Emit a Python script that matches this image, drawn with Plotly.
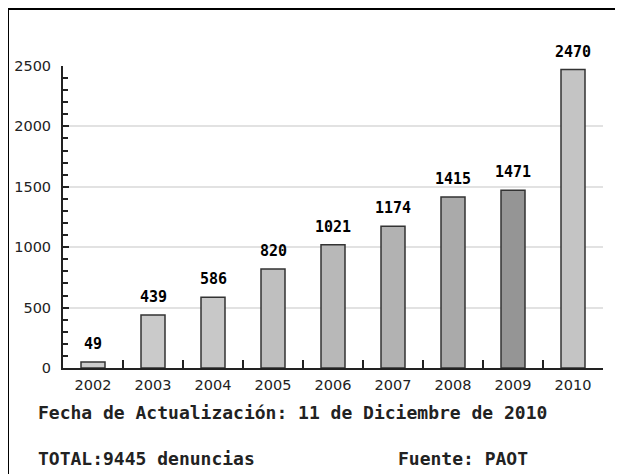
import plotly.graph_objects as go

years = ["2002", "2003", "2004", "2005", "2006", "2007", "2008", "2009", "2010"]
denuncias = [49, 439, 586, 820, 1021, 1174, 1415, 1471, 2470]
bar_colors = ["#cccccc", "#cacaca", "#c8c8c8", "#bfbfbf", "#b8b8b8", "#b2b2b2", "#aaaaaa", "#959595", "#c4c4c4"]
fecha_text = "Fecha de Actualización: 11 de Diciembre de 2010"
total_text = "TOTAL:9445 denuncias"
fuente_text = "Fuente: PAOT"

# page body has an 8px margin, so the figure is sized to the remaining area
OFF = 8
W, H = 623 - OFF, 474 - OFF
L, R, T = 63 - OFF, 20, 66 - OFF
B = H - (368 - OFF)
pw, ph = W - L - R, H - T - B

def px(x):
    return (x - OFF - L) / pw

def py(y):
    return (H - B - (y - OFF)) / ph

mono = "DejaVu Sans Mono"

fig = go.Figure(go.Bar(
    x=years, y=denuncias,
    marker=dict(color=bar_colors, line=dict(color="#333333", width=1.5)),
    width=0.4,
))

# value labels: on a category axis annotations use the category's serial index
for i, v in enumerate(denuncias):
    fig.add_annotation(x=i, y=v, text=str(v), showarrow=False, yanchor="bottom", yshift=7,
                       font=dict(family=mono, size=15, color="#000000", weight="bold"))

fig.update_layout(
    width=W, height=H, margin=dict(l=L, r=R, t=T, b=B, autoexpand=False),
    paper_bgcolor="white", plot_bgcolor="white", showlegend=False,
    font=dict(family="DejaVu Sans", size=14, color="#222222"),
    xaxis=dict(type="category", showline=True, linecolor="#222222", linewidth=2, ticks="inside",
               tickson="boundaries", ticklen=8, tickcolor="#222222", tickwidth=1.5,
               showgrid=False, tickfont=dict(size=14.5), automargin=False,
               ticklabelstandoff=3),
    yaxis=dict(range=[0, 2500], dtick=500, showline=True, linecolor="#222222", linewidth=2,
               ticks="inside", ticklen=6, tickcolor="#222222", tickwidth=1.5,
               gridcolor="#e2e2e2", gridwidth=1.5, zeroline=False,
               minor=dict(dtick=100, ticks="inside", ticklen=5, tickcolor="#222222", showgrid=False),
               tickfont=dict(size=14.5), ticklabelstandoff=7, automargin=False),
)

# frame
fig.add_shape(type="line", xref="paper", yref="paper", x0=px(8), x1=px(640), y0=py(9), y1=py(9),
              line=dict(color="black", width=2))
fig.add_shape(type="line", xref="paper", yref="paper", x0=px(8), x1=px(8), y0=py(9), y1=py(490),
              line=dict(color="black", width=2))

ann_font = dict(family=mono, size=18, color="#222222", weight="bold")
fig.add_annotation(text=fecha_text, xref="paper", yref="paper", x=px(36), y=py(412),
                   xanchor="left", yanchor="middle", showarrow=False, font=ann_font)
fig.add_annotation(text=total_text, xref="paper", yref="paper", x=px(36), y=py(458),
                   xanchor="left", yanchor="middle", showarrow=False, font=ann_font)
fig.add_annotation(text=fuente_text, xref="paper", yref="paper", x=px(396), y=py(458),
                   xanchor="left", yanchor="middle", showarrow=False, font=ann_font)

fig.write_html("out.html")
